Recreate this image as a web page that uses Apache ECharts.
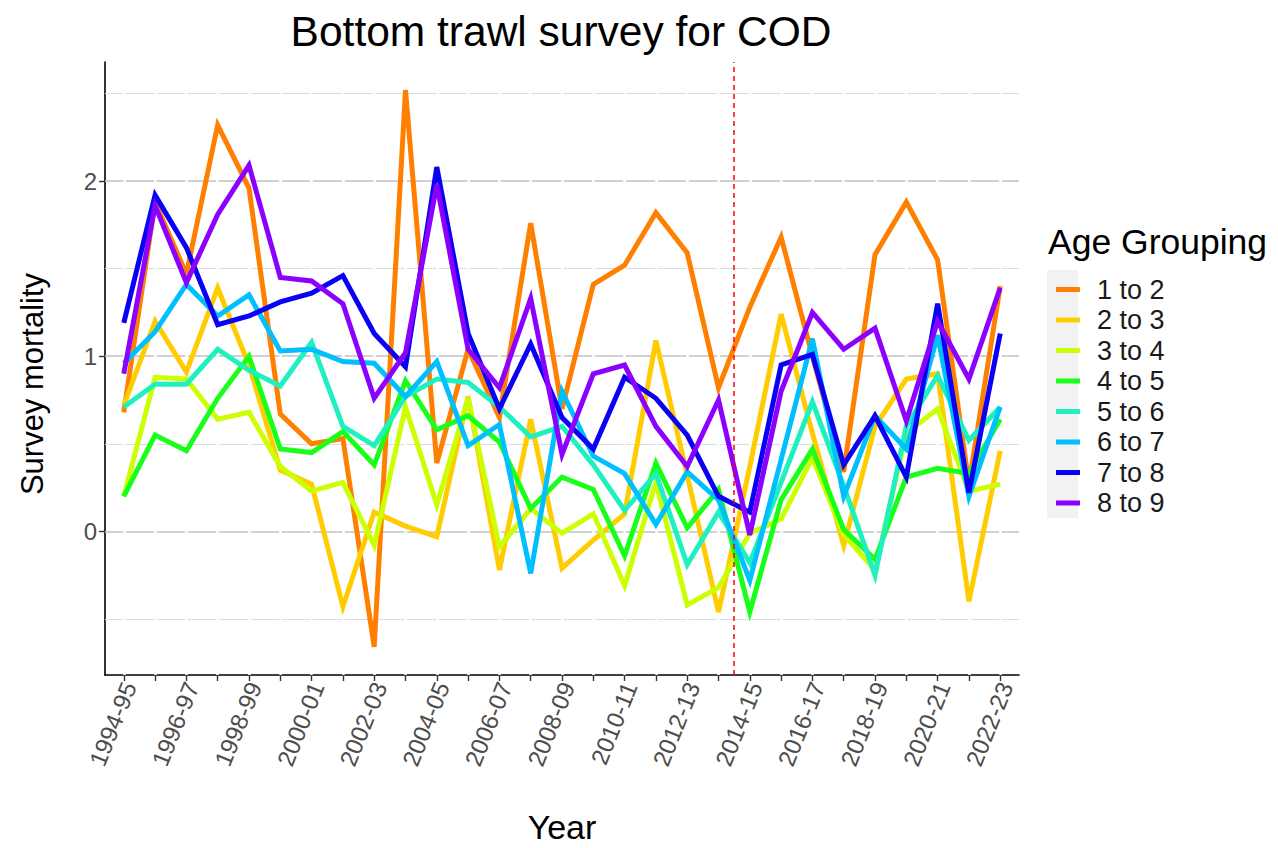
<!DOCTYPE html>
<html>
<head>
<meta charset="utf-8">
<script src="https://cdn.jsdelivr.net/npm/echarts@6/dist/echarts.min.js"></script>
<style>
  html, body { margin: 0; padding: 0; background: #fff; }
  #chart { width: 1278px; height: 848px; }
</style>
</head>
<body>
<div id="chart"></div>
<script>
// ---- Data ----
const years = ["1994-95","1995-96","1996-97","1997-98","1998-99","1999-00","2000-01","2001-02","2002-03","2003-04",
  "2004-05","2005-06","2006-07","2007-08","2008-09","2009-10","2010-11","2011-12","2012-13","2013-14",
  "2014-15","2015-16","2016-17","2017-18","2018-19","2019-20","2020-21","2021-22","2022-23"];
const groupNames = ["1 to 2","2 to 3","3 to 4","4 to 5","5 to 6","6 to 7","7 to 8","8 to 9"];
const age1to2 = [0.68,1.88,1.47,2.32,1.96,0.67,0.50,0.53,-0.66,2.52,0.39,1.04,0.65,1.76,0.70,1.41,1.52,1.82,1.59,0.82,1.28,1.68,1.00,0.34,1.58,1.88,1.55,0.27,1.40];
const age2to3 = [0.72,1.20,0.91,1.39,0.95,0.35,0.27,-0.43,0.11,0.03,-0.03,0.77,-0.22,0.64,-0.21,-0.05,0.10,1.09,0.32,-0.46,0.37,1.24,0.56,-0.08,0.60,0.87,0.90,-0.40,0.46];
const age3to4 = [0.20,0.88,0.87,0.64,0.68,0.37,0.23,0.28,-0.08,0.71,0.15,0.76,-0.09,0.13,-0.01,0.10,-0.31,0.28,-0.42,-0.32,-0.01,0.07,0.42,-0.02,-0.22,0.56,0.70,0.23,0.27];
const age4to5 = [0.20,0.55,0.46,0.76,1.00,0.47,0.45,0.57,0.38,0.86,0.58,0.66,0.51,0.13,0.31,0.24,-0.14,0.39,0.02,0.24,-0.46,0.18,0.47,0.01,-0.16,0.31,0.36,0.33,0.64];
const age5to6 = [0.71,0.84,0.84,1.04,0.92,0.83,1.08,0.60,0.49,0.77,0.87,0.85,0.71,0.54,0.60,0.38,0.12,0.33,-0.19,0.11,-0.18,0.28,0.74,0.26,-0.25,0.60,0.89,0.52,0.71];
const age6to7 = [0.96,1.14,1.41,1.23,1.35,1.03,1.04,0.97,0.96,0.77,0.97,0.49,0.61,-0.24,0.80,0.43,0.33,0.04,0.34,0.18,-0.28,0.41,1.10,0.20,0.66,0.47,1.12,0.20,0.71];
const age7to8 = [1.19,1.92,1.62,1.18,1.23,1.31,1.36,1.46,1.13,0.94,2.08,1.13,0.70,1.07,0.65,0.47,0.88,0.76,0.55,0.20,0.11,0.95,1.01,0.38,0.66,0.31,1.30,0.22,1.13];
const age8to9 = [0.90,1.86,1.42,1.81,2.09,1.45,1.43,1.30,0.76,1.02,1.98,1.04,0.82,1.33,0.44,0.90,0.95,0.60,0.37,0.75,-0.02,0.80,1.25,1.04,1.16,0.63,1.20,0.87,1.39];
const seriesValues = [age1to2, age2to3, age3to4, age4to5, age5to6, age6to7, age7to8, age8to9];
const yTickLabels = [0, 1, 2];
const yMinorGrid = [-0.5, 0.5, 1.5, 2.5];
const cutoffPosition = 19.5; // between 2013-14 and 2014-15

// ---- Styles ----
const colors = ["#FF8000","#FFCC00","#CCFF00","#1AFF1A","#1EF0C0","#00BFFF","#0A00F5","#8C00FF"];
const FONT = "Liberation Sans, Arial, sans-serif";

const idx = years.map((_, i) => i);
const labelIdx = idx.filter(i => i % 2 === 0);

const chart = echarts.init(document.getElementById('chart'), null, { renderer: 'svg' });

const dataSeries = groupNames.map((name, s) => ({
  name: name,
  type: 'line',
  data: seriesValues[s].map((v, i) => [i, v]),
  showSymbol: false,
  symbol: 'none',
  z: 3,
  lineStyle: { width: 5, color: colors[s], join: 'miter' },
  itemStyle: { color: colors[s] },
  emphasis: { disabled: true },
  animation: false
}));

const option = {
  animation: false,
  color: colors,
  grid: { left: 105, right: 259, top: 62, bottom: 173, containLabel: false, outerBoundsMode: 'none' },
  xAxis: {
    type: 'value',
    min: -0.6,
    max: 28.6,
    axisLine: { show: true, onZero: false, lineStyle: { color: '#000', width: 1.6 } },
    axisTick: { show: true, customValues: idx, length: 6, lineStyle: { color: '#333', width: 1.4 } },
    axisLabel: {
      customValues: labelIdx,
      formatter: v => years[Math.round(v)],
      rotate: 68,
      fontSize: 24,
      lineHeight: 12,
      color: '#4D4D4D',
      fontFamily: FONT,
      margin: 6,
      verticalAlign: 'top'
    },
    splitLine: { show: false },
    name: 'Year',
    nameLocation: 'middle',
    nameGap: 135,
    nameTextStyle: { fontSize: 34, color: '#000', fontFamily: FONT }
  },
  yAxis: {
    type: 'value',
    min: -0.82,
    max: 2.68,
    axisLine: { show: true, onZero: false, lineStyle: { color: '#000', width: 1.6 } },
    axisTick: { show: true, customValues: yTickLabels, length: 6, lineStyle: { color: '#333', width: 1.4 } },
    axisLabel: {
      customValues: yTickLabels,
      formatter: v => String(v),
      fontSize: 24,
      color: '#4D4D4D',
      fontFamily: FONT,
      margin: 8
    },
    splitLine: { show: false }
  },
  legend: {
    orient: 'vertical',
    left: 1051,
    top: 271,
    itemWidth: 24,
    itemHeight: 5,
    itemGap: 3.5,
    icon: 'rect',
    z: 5,
    data: groupNames,
    selectedMode: false,
    textStyle: { fontSize: 27, lineHeight: 27, color: '#1A1A1A', fontFamily: FONT, padding: [0, 0, 0, 12] }
  },
  graphic: [
    { type: 'text', x: 561, y: 10, z: 10,
      style: { text: 'Bottom trawl survey for COD', font: '42.5px ' + FONT, fill: '#000', textAlign: 'center', textVerticalAlign: 'top' } },
    { type: 'text', x: 1048, y: 224, z: 10,
      style: { text: 'Age Grouping', font: '35.5px ' + FONT, fill: '#000', textAlign: 'left', textVerticalAlign: 'top' } },
    { type: 'text', x: 32, y: 384, z: 10, rotation: Math.PI / 2,
      style: { text: 'Survey mortality', font: '31px ' + FONT, fill: '#000', textAlign: 'center', textVerticalAlign: 'middle' } },
    { type: 'rect', shape: { x: 1047, y: 270, width: 31, height: 248 }, z: 0,
      style: { fill: '#F2F2F2' } }
  ],
  series: [
    {
      type: 'line', data: [], z: 1, silent: true,
      markLine: {
        z: 1,
        silent: true, symbol: 'none', animation: false, label: { show: false },
        data: [].concat(
          yMinorGrid.map(v => ({ yAxis: v, lineStyle: { color: '#DCDCDC', width: 1.2, type: 'solid' } })),
          yTickLabels.map(v => ({ yAxis: v, lineStyle: { color: '#C2C2C2', width: 1.6, type: 'solid' } })),
          idx.map(i => ({ xAxis: i, lineStyle: { color: '#FFFFFF', width: 2.5, type: 'solid' } }))
        )
      }
    },
    ...dataSeries,
    {
      type: 'line', data: [], z: 10, silent: true,
      markLine: {
        z: 10,
        silent: true, symbol: 'none', animation: false, label: { show: false },
        data: [{ xAxis: cutoffPosition, lineStyle: { color: '#FF0000', width: 1.5, type: [5, 4] } }]
      }
    }
  ]
};
chart.setOption(option);
</script>
</body>
</html>
